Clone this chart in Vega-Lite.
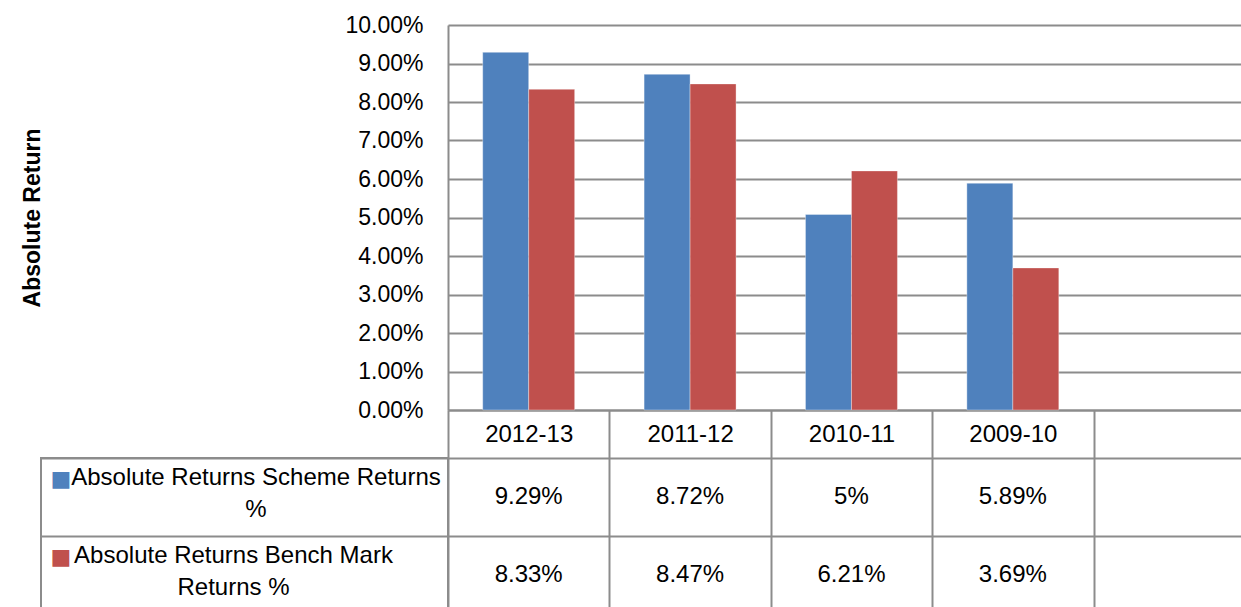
{
  "$schema": "https://vega.github.io/schema/vega-lite/v6.json",
  "padding": {"left": 21, "top": 14, "right": 0, "bottom": 0},
  "background": "white",
  "config": {"view": {"stroke": null}, "font": "Liberation Sans"},
  "data": {"values": [
    {"year": "2012-13", "series": "Absolute Returns Scheme Returns %", "value": 0.0929, "label": "9.29%"},
    {"year": "2011-12", "series": "Absolute Returns Scheme Returns %", "value": 0.0872, "label": "8.72%"},
    {"year": "2010-11", "series": "Absolute Returns Scheme Returns %", "value": 0.0508, "label": "5%"},
    {"year": "2009-10", "series": "Absolute Returns Scheme Returns %", "value": 0.0589, "label": "5.89%"},
    {"year": "2012-13", "series": "Absolute Returns Bench Mark Returns %", "value": 0.0833, "label": "8.33%"},
    {"year": "2011-12", "series": "Absolute Returns Bench Mark Returns %", "value": 0.0847, "label": "8.47%"},
    {"year": "2010-11", "series": "Absolute Returns Bench Mark Returns %", "value": 0.0621, "label": "6.21%"},
    {"year": "2009-10", "series": "Absolute Returns Bench Mark Returns %", "value": 0.0369, "label": "3.69%"}
  ]},
  "columns": 2,
  "spacing": {"row": 48, "column": 0},
  "bounds": "flush",
  "resolve": {"scale": {"x": "independent", "y": "independent", "color": "independent", "xOffset": "independent"}},
  "concat": [
    {
      "width": 407,
      "height": 385,
      "data": {"values": [{"k": 1}]},
      "mark": {"type": "text"},
      "encoding": {"text": {"value": ""}}
    },
    {
      "width": 794,
      "height": 385,
      "mark": {"type": "bar", "stroke": "#ffffff", "strokeOpacity": 0.35, "strokeWidth": 1},
      "encoding": {
        "x": {
          "field": "year", "type": "nominal",
          "scale": {"domain": ["2012-13", "2011-12", "2010-11", "2009-10"], "paddingInner": 0, "paddingOuter": 0.46, "align": 0},
          "axis": {"title": null, "labelAngle": 0, "labelFont": "Liberation Sans", "labelFontSize": 24, "labelColor": "#000000", "labelBaseline": "middle", "labelPadding": -24, "tickBand": "extent", "tickSize": 48, "tickColor": "#8c8c8c", "tickWidth": 2, "domainColor": "#8c8c8c", "domainWidth": 2, "grid": false}
        },
        "xOffset": {
          "field": "series", "type": "nominal",
          "scale": {"domain": ["Absolute Returns Scheme Returns %", "Absolute Returns Bench Mark Returns %"], "paddingInner": 0, "paddingOuter": 0.755}
        },
        "y": {
          "field": "value", "type": "quantitative", "stack": null,
          "scale": {"domain": [0, 0.1], "nice": false},
          "axis": {"values": [0, 0.01, 0.02, 0.03, 0.04, 0.05, 0.06, 0.07, 0.08, 0.09, 0.1], "format": ".2%", "title": "Absolute Return", "titleFont": "Liberation Sans", "titleFontSize": 23, "titleFontWeight": "bold", "titleColor": "#000000", "titlePadding": 300, "labelFont": "Liberation Sans", "labelFontSize": 23, "labelColor": "#000000", "labelPadding": 25, "ticks": false, "domainColor": "#8c8c8c", "domainWidth": 2, "grid": true, "gridColor": "#8c8c8c", "gridWidth": 2}
        },
        "color": {
          "field": "series", "type": "nominal",
          "scale": {"domain": ["Absolute Returns Scheme Returns %", "Absolute Returns Bench Mark Returns %"], "range": ["#4F81BD", "#C0504D"]},
          "legend": null
        }
      }
    },
    {
      "width": 407,
      "height": 156,
      "data": {"values": [
        {"series": "Absolute Returns Scheme Returns %", "caption": "Absolute Returns Scheme Returns\n%"},
        {"series": "Absolute Returns Bench Mark Returns %", "caption": "Absolute Returns Bench Mark\nReturns %"}
      ]},
      "view": {"stroke": "#8c8c8c", "strokeWidth": 2},
      "encoding": {
        "y": {
          "field": "series", "type": "nominal",
          "scale": {"type": "band", "domain": ["Absolute Returns Scheme Returns %", "Absolute Returns Bench Mark Returns %"], "paddingInner": 0, "paddingOuter": 0},
          "axis": {"title": null, "labels": false, "ticks": false, "domain": false, "grid": true, "tickBand": "extent", "gridColor": "#8c8c8c", "gridWidth": 2}
        }
      },
      "layer": [
        {
          "transform": [{"filter": {"field": "series", "equal": "Absolute Returns Scheme Returns %"}}],
          "mark": {"type": "text", "lineBreak": "\n", "font": "Liberation Sans", "fontSize": 24, "align": "center", "baseline": "middle", "lineHeight": 32, "dx": 11.5, "dy": -19, "color": "#000000"},
          "encoding": {"text": {"field": "caption"}}
        },
        {
          "transform": [{"filter": {"field": "series", "equal": "Absolute Returns Bench Mark Returns %"}}],
          "mark": {"type": "text", "lineBreak": "\n", "font": "Liberation Sans", "fontSize": 24, "align": "center", "baseline": "middle", "lineHeight": 32, "dx": -11, "dy": -19, "color": "#000000"},
          "encoding": {"text": {"field": "caption"}}
        },
        {
          "mark": {"type": "text", "font": "DejaVu Sans", "fontSize": 22, "align": "center", "baseline": "middle", "dx": -183.5, "dy": -18},
          "encoding": {
            "text": {"value": "■"},
            "color": {
              "field": "series", "type": "nominal",
              "scale": {"domain": ["Absolute Returns Scheme Returns %", "Absolute Returns Bench Mark Returns %"], "range": ["#4F81BD", "#C0504D"]},
              "legend": null
            }
          }
        }
      ]
    },
    {
      "width": 794,
      "height": 156,
      "mark": {"type": "text", "font": "Liberation Sans", "fontSize": 24, "color": "#000000", "align": "center", "baseline": "middle"},
      "encoding": {
        "x": {
          "field": "year", "type": "nominal",
          "scale": {"type": "band", "domain": ["2012-13", "2011-12", "2010-11", "2009-10"], "paddingInner": 0, "paddingOuter": 0.46, "align": 0},
          "axis": {"title": null, "labels": false, "ticks": false, "domain": false, "grid": true, "tickBand": "extent", "gridColor": "#8c8c8c", "gridWidth": 2}
        },
        "y": {
          "field": "series", "type": "nominal",
          "scale": {"type": "band", "domain": ["Absolute Returns Scheme Returns %", "Absolute Returns Bench Mark Returns %"], "paddingInner": 0, "paddingOuter": 0},
          "axis": {"title": null, "labels": false, "ticks": false, "domain": false, "grid": true, "tickBand": "extent", "gridColor": "#8c8c8c", "gridWidth": 2}
        },
        "text": {"field": "label"}
      }
    }
  ]
}
